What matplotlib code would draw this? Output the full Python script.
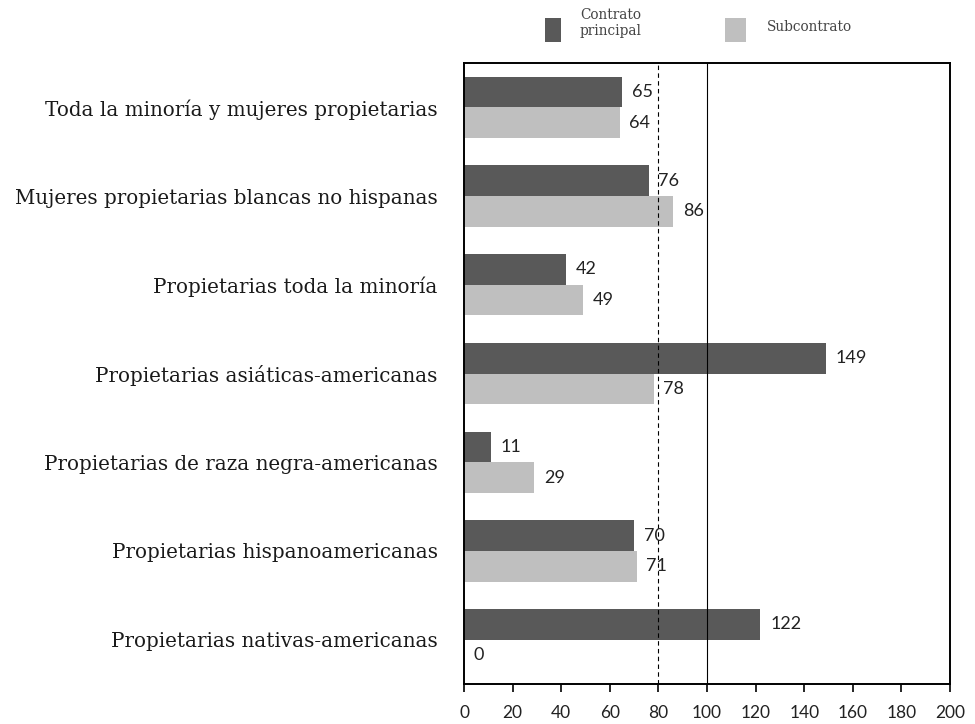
import numpy as np
import matplotlib.pyplot as plt
from matplotlib.patches import Rectangle

## datos del grafico
categorias = ['Toda la minoría y mujeres propietarias',
              'Mujeres propietarias blancas no hispanas',
              'Propietarias toda la minoría',
              'Propietarias asiáticas-americanas',
              'Propietarias de raza negra-americanas',
              'Propietarias hispanoamericanas',
              'Propietarias nativas-americanas']
contrato_principal = [65, 76, 42, 149, 11, 70, 122]
subcontrato = [64, 86, 49, 78, 29, 71, 0]
ticks_x = [0, 20, 40, 60, 80, 100, 120, 140, 160, 180, 200]
series = ['Contrato\nprincipal', 'Subcontrato']

oscuro = '#595959'
claro = '#BFBFBF'

fig = plt.figure(figsize=(9.75, 7.24), dpi=100)
ax = fig.add_axes([464/975, 1-684/724, (950-464)/975, (684-63)/724])

y = np.arange(len(categorias))
h = 0.345
ax.barh(y - h/2, contrato_principal, height=h, color=oscuro, zorder=2)
ax.barh(y + h/2, subcontrato, height=h, color=claro, zorder=2)

## lineas de referencia
ax.axvline(80, color='black', lw=0.8, ls=(0, (4, 3)), zorder=3)
ax.axvline(100, color='black', lw=0.8, zorder=3)

for i in range(len(categorias)):
    ax.text(contrato_principal[i] + 4, y[i] - h/2, str(contrato_principal[i]),
            va='center', ha='left', fontsize=13, family='Lato', color='#222222')
    ax.text(subcontrato[i] + 4, y[i] + h/2, str(subcontrato[i]),
            va='center', ha='left', fontsize=13, family='Lato', color='#222222')

ax.set_xlim(0, 200)
ax.set_ylim(6.5, -0.5)
ax.set_xticks(ticks_x)
ax.set_xticklabels([str(t) for t in ticks_x], fontsize=12.5, family='Lato', color='#222222')
ax.set_yticks(y)
ax.set_yticklabels(categorias, fontsize=14.3, family='DejaVu Serif', color='#1a1a1a')
ax.tick_params(axis='y', length=0, pad=19)
ax.tick_params(axis='x', direction='out', length=6, width=1.2, pad=9)
for s in ax.spines.values():
    s.set_linewidth(1.4)

## leyenda dibujada a mano arriba
W, H = 975, 724
fig.add_artist(Rectangle((545/W, 1-42/H), 16/W, 24/H, facecolor=oscuro,
                         transform=fig.transFigure))
fig.text(580/W, 1-23/H, series[0], ha='left', va='center', fontsize=9.8,
         family='DejaVu Serif', color='#444444', linespacing=1.25)
fig.add_artist(Rectangle((725/W, 1-42/H), 21/W, 24/H, facecolor=claro,
                         transform=fig.transFigure))
fig.text(767/W, 1-27/H, series[1], ha='left', va='center', fontsize=9.8,
         family='DejaVu Serif', color='#444444')

fig.savefig('out.png', dpi=100)
